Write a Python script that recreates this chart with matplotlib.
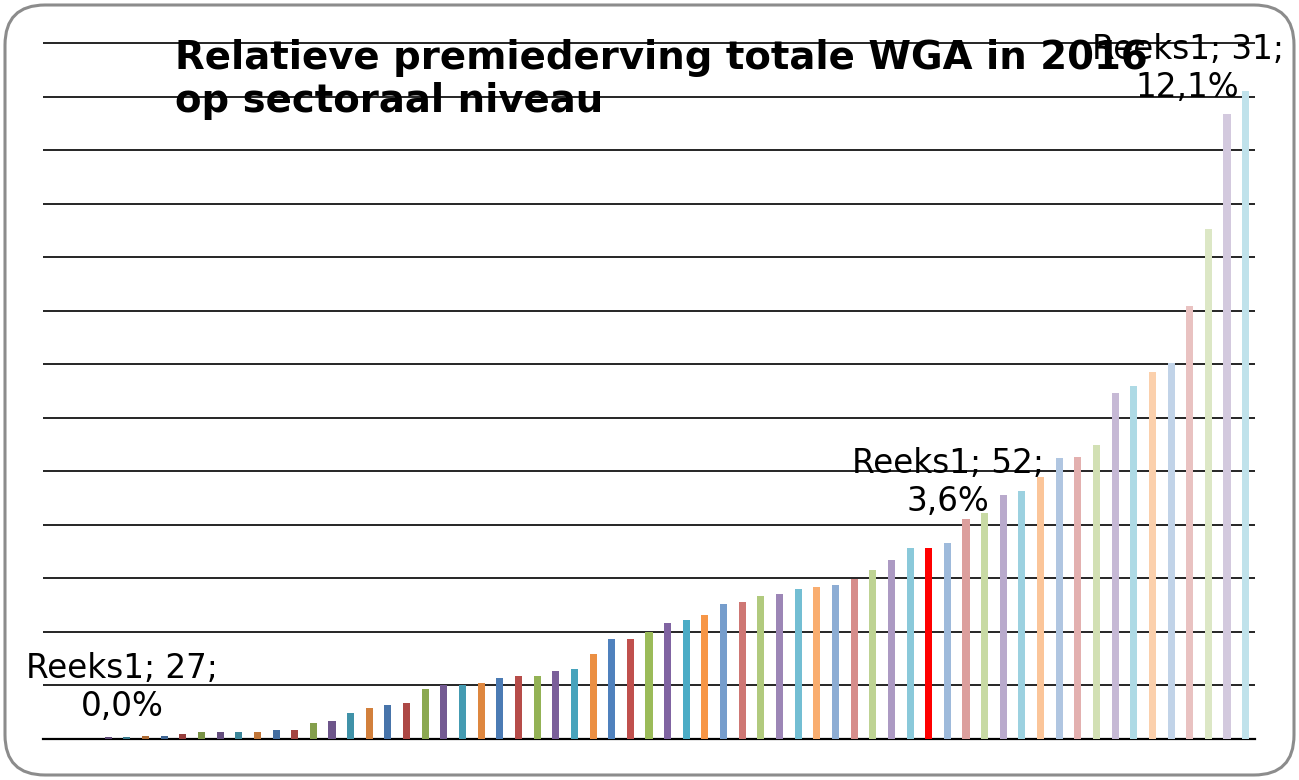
import numpy as np
import matplotlib
matplotlib.use("Agg")
import matplotlib.pyplot as plt
from matplotlib.patches import FancyBboxPatch
from matplotlib.transforms import IdentityTransform

# Relative premiederving per sector (%), sorted ascending
values = [0.0, 0.0, 0.0, 0.03, 0.03, 0.06, 0.06, 0.09, 0.13, 0.13,
          0.13, 0.13, 0.16, 0.16, 0.29, 0.33, 0.49, 0.58, 0.64, 0.68,
          0.93, 1.00, 1.01, 1.04, 1.14, 1.18, 1.18, 1.27, 1.30, 1.59,
          1.87, 1.87, 2.00, 2.16, 2.23, 2.32, 2.52, 2.55, 2.68, 2.71,
          2.81, 2.84, 2.87, 2.99, 3.16, 3.34, 3.57, 3.57, 3.67, 4.11,
          4.23, 4.56, 4.63, 4.89, 5.24, 5.27, 5.49, 6.47, 6.59, 6.85,
          7.03, 8.08, 9.52, 11.67, 12.1]
highlight = 47  # sector 52, drawn in red

# data labels: bar index, text, offset in pixels (dx, dy)
labels = [(3, "Reeks1; 27;\n0,0%", 14, 50),
          (47, "Reeks1; 52;\n3,6%", 19, 65),
          (64, "Reeks1; 31;\n12,1%", -58, 23)]

title = "Relatieve premiederving totale WGA in 2016\nop sectoraal niveau"

base = ['#4F81BD', '#C0504D', '#9BBB59', '#8064A2', '#4BACC6', '#F79646']
levels = [-0.3, -0.22, -0.15, -0.1, -0.05, 0.0, 0.22, 0.35, 0.45, 0.55, 0.65]


def vary(hexcol, f):
    rgb = np.array(matplotlib.colors.to_rgb(hexcol))
    if f < 0:
        rgb = rgb * (1 + f)
    else:
        rgb = rgb + (1 - rgb) * f
    return rgb


colors = [vary(base[i % 6], levels[i // 6]) for i in range(len(values))]
colors[highlight] = '#FF0000'

fig = plt.figure(figsize=(12.99, 7.8), dpi=100)
ax = fig.add_axes([43 / 1299, 41 / 780, 1212 / 1299, 697 / 780])

x = np.arange(len(values))
ax.bar(x, values, width=0.38, color=colors, zorder=3)

ax.set_xlim(-0.5, len(values) - 0.5)
ax.set_ylim(0, 13.02)
ax.set_yticks(range(14))
ax.set_xticks([])
ax.tick_params(left=False, labelleft=False)
ax.grid(True, axis='y', color='black', linewidth=1.2)
ax.set_axisbelow(True)
for s in ['top', 'right', 'left']:
    ax.spines[s].set_visible(False)
ax.spines['bottom'].set_linewidth(1.6)

fig.text(175 / 1299, 1 - 39 / 780, title, fontsize=27.8, fontweight='bold',
         ha='left', va='top', linespacing=1.16)

for idx, txt, dx, dy in labels:
    ax.annotate(txt, (idx, values[idx]), xytext=(dx, dy),
                textcoords='offset pixels', ha='center', va='center',
                fontsize=23.5, zorder=5)

frame = FancyBboxPatch((5, 5), 1289, 770, boxstyle="round,pad=0,rounding_size=40",
                       transform=IdentityTransform(), fill=False,
                       edgecolor='#8c8c8c', linewidth=2.2)
fig.patches.append(frame)

fig.savefig("out.png", dpi=100)
